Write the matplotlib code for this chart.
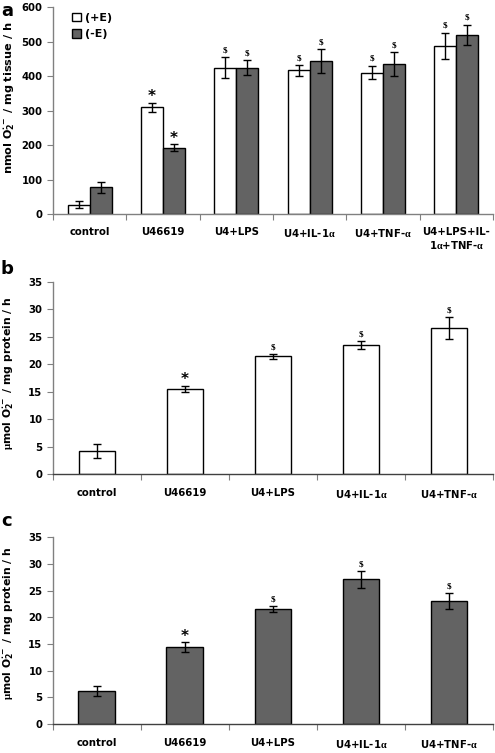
import matplotlib
matplotlib.use("Agg")
import matplotlib.pyplot as plt
from matplotlib.patches import Patch

plt.rcParams['font.family'] = 'DejaVu Sans'
plt.rcParams['font.weight'] = 'bold'
plt.rcParams['mathtext.fontset'] = 'custom'
plt.rcParams['mathtext.rm'] = 'DejaVu Sans:bold'
plt.rcParams['mathtext.bf'] = 'DejaVu Sans:bold'
plt.rcParams['mathtext.it'] = 'Liberation Serif'

# panel a : superoxide, tissue, with (+E) and without (-E) endothelium
cats_a = ['control', 'U46619', 'U4+LPS', 'U4+IL-1$\\alpha$', 'U4+TNF-$\\alpha$',
          'U4+LPS+IL-\n1$\\alpha$+TNF-$\\alpha$']
plus_e = [27, 309, 424, 416, 410, 488]
plus_e_err = [10, 14, 31, 15, 20, 38]
minus_e = [77, 192, 424, 443, 435, 520]
minus_e_err = [17, 10, 22, 35, 34, 29]
plus_e_mark = ['', '*', '$', '$', '$', '$']
minus_e_mark = ['', '*', '$', '$', '$', '$']

# panel b : (+E) cells
cats_b = ['control', 'U46619', 'U4+LPS', 'U4+IL-1$\\alpha$', 'U4+TNF-$\\alpha$']
vals_b = [4.2, 15.5, 21.4, 23.5, 26.6]
err_b = [1.2, 0.55, 0.45, 0.7, 2.0]
mark_b = ['', '*', '$', '$', '$']

# panel c : (-E) cells
cats_c = ['control', 'U46619', 'U4+LPS', 'U4+IL-1$\\alpha$', 'U4+TNF-$\\alpha$']
vals_c = [6.2, 14.4, 21.6, 27.1, 23.1]
err_c = [1.0, 0.9, 0.55, 1.6, 1.5]
mark_c = ['', '*', '$', '$', '$']

GREY = '#636363'
SPINE = '#808080'


def style_axes(ax, cats, ymax, ystep, pad=9, bottom_col=SPINE):
    n = len(cats)
    ax.set_xlim(-0.5, n - 0.5)
    ax.set_ylim(0, ymax)
    ax.set_yticks(range(0, ymax + 1, ystep))
    ax.set_xticks([i - 0.5 for i in range(n + 1)])
    ax.set_xticklabels([])
    ax.set_xticks(range(n), minor=True)
    ax.set_xticklabels(cats, minor=True, fontsize=7.3, fontweight='bold')
    ax.tick_params(axis='x', which='major', direction='out', length=4, color=SPINE)
    ax.tick_params(axis='x', which='minor', length=0, pad=pad)
    ax.tick_params(axis='y', direction='out', length=4, color=SPINE, labelsize=7.3)
    for s in ['top', 'right']:
        ax.spines[s].set_visible(False)
    ax.spines['left'].set_color(SPINE)
    ax.spines['bottom'].set_color(bottom_col)
    for s in ['left', 'bottom']:
        ax.spines[s].set_linewidth(1)
    for lab in ax.get_yticklabels():
        lab.set_fontweight('bold')


def mark(ax, x, top, m):
    if m == '*':
        ax.annotate('*', (x, top), xytext=(0, -1), textcoords='offset points',
                    ha='center', va='bottom', fontsize=11, fontweight='bold')
    elif m == '$':
        ax.annotate('\\$', (x, top), xytext=(0, 2), textcoords='offset points',
                    ha='center', va='bottom', fontsize=6.5, fontweight='bold',
                    family='Liberation Serif')


fig = plt.figure(figsize=(4.95, 7.53), dpi=100)

# ---- a ----
ax = fig.add_axes([0.107, 0.7158, 0.889, 0.2749])
w = 0.3
xs = list(range(len(cats_a)))
ax.bar([x - w / 2 for x in xs], plus_e, w, color='white', edgecolor='black', linewidth=1,
       yerr=plus_e_err, capsize=3, error_kw=dict(elinewidth=1, capthick=1))
ax.bar([x + w / 2 for x in xs], minus_e, w, color=GREY, edgecolor='black', linewidth=1,
       yerr=minus_e_err, capsize=3, error_kw=dict(elinewidth=1, capthick=1))
for i in xs:
    mark(ax, i - w / 2, plus_e[i] + plus_e_err[i], plus_e_mark[i])
    mark(ax, i + w / 2, minus_e[i] + minus_e_err[i], minus_e_mark[i])
style_axes(ax, cats_a, 600, 100, pad=9)
ax.set_ylabel('nmol O$_2^{\\cdot -}$ / mg tissue / h', fontsize=8.1, fontweight='bold')
ax.yaxis.set_label_coords(-0.081, 0.56)
handles = [Patch(facecolor='white', edgecolor='black', label='(+E)'),
           Patch(facecolor=GREY, edgecolor='black', label='(-E)')]
ax.legend(handles=handles, loc='upper left', bbox_to_anchor=(0.03, 1.0), frameon=False,
          handlelength=0.8, handleheight=0.8, handletextpad=0.4, labelspacing=0.6,
          prop=dict(size=8, weight='bold'), borderpad=0)
fig.text(0.002, 0.997, 'a', fontsize=13, fontweight='bold', va='top')

# ---- b ----
ax = fig.add_axes([0.107, 0.3705, 0.889, 0.2554])
ax.bar(range(len(cats_b)), vals_b, 0.41, color='white', edgecolor='black', linewidth=1,
       yerr=err_b, capsize=3, error_kw=dict(elinewidth=1, capthick=1))
for i in range(len(cats_b)):
    mark(ax, i, vals_b[i] + err_b[i], mark_b[i])
style_axes(ax, cats_b, 35, 5, pad=10, bottom_col='#404040')
ax.set_ylabel('$\\mu$mol O$_2^{\\cdot -}$ / mg protein / h', fontsize=7.8, fontweight='bold')
ax.yaxis.set_label_coords(-0.085, 0.525)
fig.text(0.002, 0.655, 'b', fontsize=13, fontweight='bold', va='top')

# ---- c ----
ax = fig.add_axes([0.107, 0.0385, 0.889, 0.2479])
ax.bar(range(len(cats_c)), vals_c, 0.42, color=GREY, edgecolor='black', linewidth=1,
       yerr=err_c, capsize=3, error_kw=dict(elinewidth=1, capthick=1))
for i in range(len(cats_c)):
    mark(ax, i, vals_c[i] + err_c[i], mark_c[i])
style_axes(ax, cats_c, 35, 5, pad=10, bottom_col='#404040')
ax.set_ylabel('$\\mu$mol O$_2^{\\cdot -}$ / mg protein / h', fontsize=7.8, fontweight='bold')
ax.yaxis.set_label_coords(-0.085, 0.54)
fig.text(0.002, 0.32, 'c', fontsize=13, fontweight='bold', va='top')

fig.savefig('out.png', dpi=100)
